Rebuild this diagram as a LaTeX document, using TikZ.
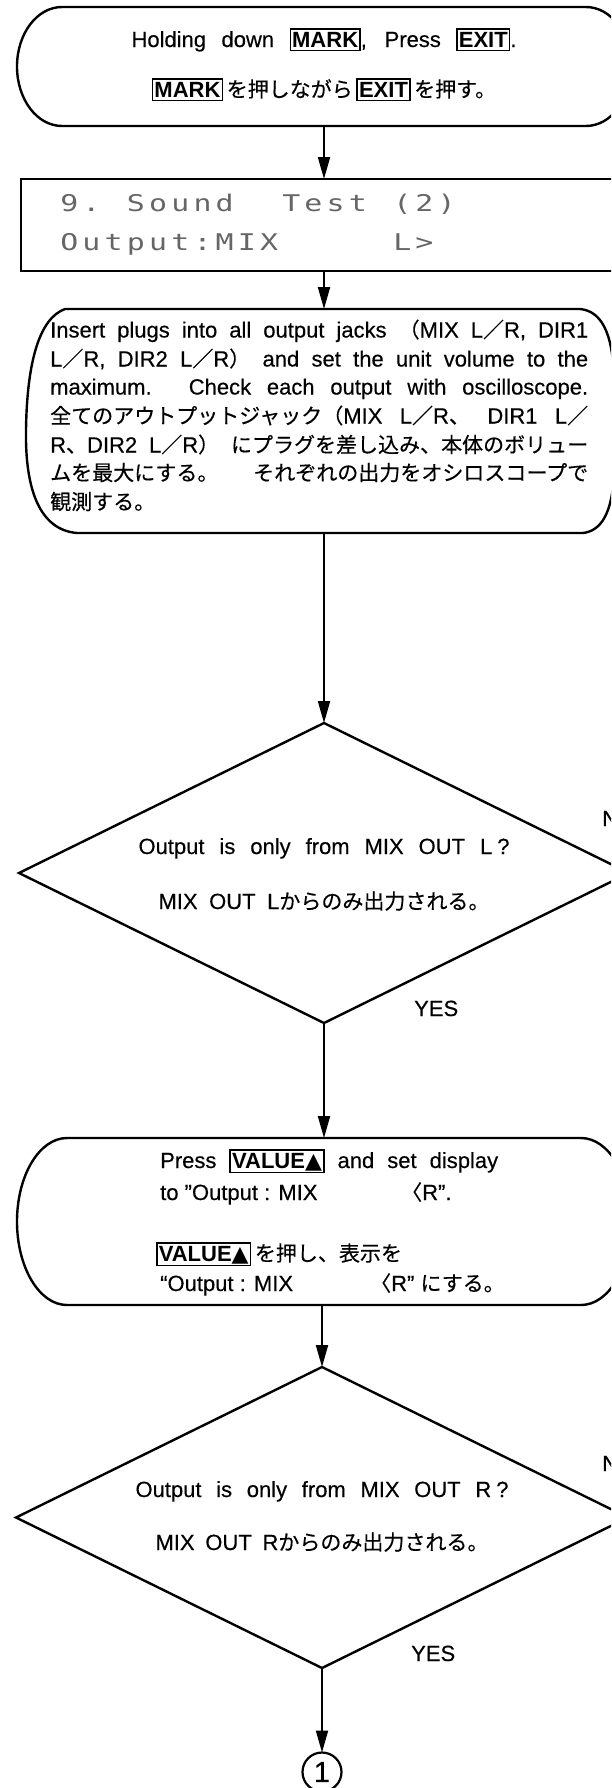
\documentclass[tikz,border=0pt]{standalone}
\usepackage{fontspec}
\usepackage{graphicx}
\setmainfont{Liberation Sans}[UprightFeatures={FakeBold=0.35}]
\newfontfamily\jpfont{Noto Sans CJK JP}[Scale=0.955,FakeBold=0.3]
\newfontfamily\symfont{DejaVu Sans}
\newfontfamily\lcdfont{DejaVu Sans Mono}
\usetikzlibrary{shapes.geometric,arrows.meta}
\newcommand\J[1]{{\jpfont #1}}
\newcommand\keyb[1]{{\setlength\fboxsep{1.2pt}\setlength\fboxrule{1.4pt}\fbox{\rule[-1.5pt]{0pt}{17.5pt}\textbf{#1}}}}
\makeatletter
\newcommand\lcdrow[1]{\@tfor\lcd@c:=#1\do{\makebox[22.2pt][c]{\scalebox{1.3}[1]{\lcd@c}}}}
\makeatother
\begin{document}
\begin{tikzpicture}[x=1pt,y=-1pt,
  outl/.style={line width=2.4pt},
  arr/.style={line width=2pt,-{Triangle[length=22pt,width=12pt]}},
  hold/.style={inner sep=0pt,outer sep=0pt},
  ctxt/.style={inner sep=0pt,anchor=base,font=\fontsize{22pt}{26pt}\selectfont},
  ltxt/.style={inner sep=0pt,anchor=base west,font=\fontsize{22pt}{26pt}\selectfont},
  lcdtxt/.style={inner sep=0pt,anchor=base west,text=black!60,font={\lcdfont\fontsize{23pt}{25pt}\selectfont}},
  dia/.style={diamond,draw,line width=2.4pt,inner sep=0pt,outer sep=0pt}]
\useasboundingbox (0,0) rectangle (611,1788);
\fill[white] (0,0) rectangle (611,1788);
\clip (0,0) rectangle (611,1788);

% ---- box 1 (terminal)
\node[hold,minimum width=614pt,minimum height=119pt] (box1) at (324,66.5) {};
\draw[outl] (62,7) -- (586,7)
  .. controls (610.9,7) and (631,33.6) .. (631,66.5)
  .. controls (631,99.4) and (610.9,126) .. (586,126)
  -- (62,126)
  .. controls (37.1,126) and (17,99.4) .. (17,66.5)
  .. controls (17,33.6) and (37.1,7) .. (62,7) -- cycle;
\node[ctxt] (b1a) at (324,47) {\makebox[385pt][s]{Holding down \keyb{MARK}, Press \keyb{EXIT}.}};
\node[ctxt] (b1b) at (324,97) {\keyb{MARK}\,\J{を押しながら}\,\keyb{EXIT}\,\J{を押す。}};

% ---- LCD display
\node[draw,outl,hold,minimum width=606pt,minimum height=92pt] (lcd) at (324,225) {};
\node[lcdtxt] (lcd1) at (58,211.5) {\lcdrow{9.~Sound~~Test~(2)}};
\node[lcdtxt] (lcd2) at (58,250.5) {\lcdrow{Output:MIX~~~~~L>}};

% ---- box 3
\node[hold,minimum width=590pt,minimum height=224pt] (box3) at (324,421) {};
\draw[outl] (65,309) -- (580,309)
  .. controls (600,311) and (613,330) .. (614,380)
  -- (614,470)
  .. controls (613,515) and (600,531) .. (583,533)
  -- (77,533)
  .. controls (40,530) and (25,490) .. (26,430)
  .. controls (27,360) and (40,318) .. (65,309) -- cycle;
\node[ltxt] (b3l1) at (50,337.5) {\makebox[538pt][s]{Insert plugs into all output jacks \J{（}MIX L\J{／}R, DIR1}};
\node[ltxt] (b3l2) at (50,366.5) {\makebox[538pt][s]{L\J{／}R, DIR2 L\J{／}R\J{）} and set the unit volume to the}};
\node[ltxt] (b3l3) at (50,394.5) {\makebox[538pt][s]{maximum. Check each output with oscilloscope.}};
\node[ltxt] (b3l4) at (50,423.5) {\makebox[538pt][s]{\J{全てのアウトプットジャック（}MIX L\J{／}R\J{、} DIR1 L\J{／}}};
\node[ltxt] (b3l5) at (50,452.5) {\makebox[538pt][s]{R\J{、}DIR2 L\J{／}R\J{）} \J{にプラグを差し込み、本体のボリュー}}};
\node[ltxt] (b3l6) at (50,480.5) {\makebox[538pt][s]{\J{ムを最大にする。} \J{それぞれの出力をオシロスコープで}}};
\node[ltxt] (b3l7) at (50,509.5) {\J{観測する。}};

% ---- decision 1
\node[dia,minimum width=610pt,minimum height=300pt] (d1) at (324,873) {};
\node[ctxt] (d1a) at (324,854) {\makebox[371pt][s]{Output is only from MIX OUT L\hspace{5pt}?}};
\node[ctxt] (d1b) at (324,909) {\makebox[331pt][s]{MIX OUT L\J{からのみ出力される。}}};
\node[ltxt] (d1yes) at (414,1016) {YES};
\node[ltxt] (d1no) at (602,826) {N};

% ---- box 4
\node[hold,minimum width=614pt,minimum height=167pt] (box4) at (324,1221.5) {};
\draw[outl] (67,1138) -- (581,1138)
  .. controls (608.6,1138) and (631,1175.4) .. (631,1221.5)
  .. controls (631,1267.6) and (608.6,1305) .. (581,1305)
  -- (67,1305)
  .. controls (39.4,1305) and (17,1267.6) .. (17,1221.5)
  .. controls (17,1175.4) and (39.4,1138) .. (67,1138) -- cycle;
\node[ltxt] (b4l1) at (160,1168) {\makebox[338pt][s]{Press \keyb{VALUE{\symfont ▲}} and set display}};
\node[ltxt] (b4l2) at (160,1200) {\makebox[241pt][l]{to ”Output : MIX}\J{〈}R”.};
\node[ltxt] (b4l3) at (156,1261) {\keyb{VALUE{\symfont ▲}}\,\J{を押し、表示を}};
\node[ltxt] (b4l4) at (160,1291) {\makebox[210pt][l]{“Output : MIX}\J{〈}R” \J{にする。}};

% ---- decision 2
\node[dia,minimum width=612pt,minimum height=301pt] (d2) at (322,1517.5) {};
\node[ctxt] (d2a) at (322,1497) {\makebox[373pt][s]{Output is only from MIX OUT R\hspace{5pt}?}};
\node[ctxt] (d2b) at (322,1550) {\makebox[333pt][s]{MIX OUT R\J{からのみ出力される。}}};
\node[ltxt] (d2yes) at (411,1661) {YES};
\node[ltxt] (d2no) at (602,1471) {N};

% ---- connector circle
\node[circle,draw,line width=2.2pt,inner sep=0pt,outer sep=0pt,minimum size=39pt,font=\fontsize{29pt}{30pt}\selectfont] (c1) at (322,1772) {1};

% ---- connectors
\draw[arr] (box1.south) -- (lcd.north);
\draw[arr] (lcd.south) -- (box3.north);
\draw[arr] (box3.south) -- (d1.north);
\draw[arr] (d1.south) -- (box4.north);
\draw[arr] (box4.south -| d2.north) -- (d2.north);
\draw[arr] (d2.south) -- (c1.north);
\end{tikzpicture}
\end{document}
